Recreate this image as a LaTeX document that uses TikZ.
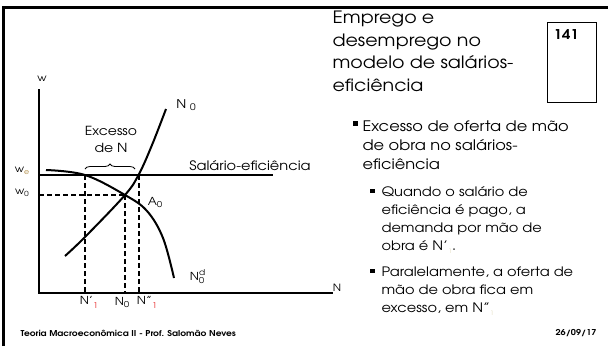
\documentclass[tikz,border=0pt]{standalone}
\usepackage{fontspec}
\setmainfont{texgyreadventor}[Extension=.otf, UprightFont=*-regular, BoldFont=*-bold, FakeStretch=1.12]
\usetikzlibrary{decorations.pathreplacing}
\definecolor{subgold}{RGB}{176,140,70}
\definecolor{subred}{RGB}{230,40,40}
\definecolor{subpale}{RGB}{225,220,190}

\begin{document}
\begin{tikzpicture}[x=1pt, y=-1pt, line width=1.1pt,
    curve/.style={line width=2pt},
    guide/.style={dashed, line width=1.3pt, dash pattern=on 5pt off 3pt},
    lbl/.style={inner sep=0pt, font=\fontsize{10}{12}\selectfont},
    bodytext/.style={inner sep=0pt, anchor=base west, align=left}]
  \useasboundingbox (0,0) rectangle (608,346);
  % frame
  \draw[line width=3pt] (3.5,346) -- (3.5,7.5) -- (608,7.5);

  % axes
  \coordinate (O) at (39,293);
  \coordinate (Ytop) at (39,89);
  \coordinate (Xend) at (333,293);
  \draw (Ytop) -- (O) -- (Xend);
  \node[lbl] (wlab) at (42,79) {w};
  \node[lbl] (Nlab) at (337,288) {N};

  % wage levels
  \coordinate (we) at (39,175);
  \coordinate (weend) at (273,175);
  \coordinate (w0) at (39,195);
  \coordinate (A) at (125,195);
  \draw (we) -- (weend);
  \draw[guide] (w0) -- (A);
  \draw[guide] (85,175) -- (85,293);
  \draw[guide] (A) -- (125,293);
  \draw[guide] (139,175) -- (139,293);

  % curves
  \draw[curve] plot[smooth, tension=0.6] coordinates
    {(65,256) (85,237) (125,195) (139,174) (152,145) (166,109)};
  \draw[curve] plot[smooth, tension=0.6] coordinates
    {(46,170) (85,175) (125,195) (147,211) (163,238) (174,278)};

  % brace
  \draw[line width=0.8pt, decorate, decoration={brace, amplitude=5pt}]
    (85,169) -- (135,169);
  \node[inner sep=0pt, align=center, font=\fontsize{12.5}{17}\selectfont]
    (exc) at (111,139) {Excesso\\de N};
  \node[inner sep=0pt, font=\fontsize{13}{15}\selectfont]
    (sal) at (250,166) {Salário-eficiência};

  % labels
  \node[lbl] (welab) at (22,171) {w\textcolor{subgold}{\raisebox{-2.5pt}{\fontsize{7}{8}\selectfont e}}};
  \node[lbl] (w0lab) at (22,193) {w\raisebox{-2.5pt}{\fontsize{7}{8}\selectfont 0}};
  \node[lbl, font=\fontsize{12}{14}\selectfont] (Ns) at (186,105) {N \raisebox{-2pt}{\fontsize{9}{10}\selectfont 0}};
  \node[lbl, font=\fontsize{11}{13}\selectfont] (A0) at (155,202) {A\raisebox{-2pt}{\fontsize{8}{9}\selectfont 0}};
  \node[lbl, font=\fontsize{11}{13}\selectfont] (Nd) at (197,277)
    {N\rlap{\raisebox{4.5pt}{\fontsize{8}{9}\selectfont d}}\raisebox{-3.5pt}{\fontsize{8}{9}\selectfont 0}};
  \node[lbl, font=\fontsize{11}{13}\selectfont] (N1a) at (89,302) {N'\raisebox{-4pt}{\fontsize{8}{9}\selectfont\textcolor{subred}{1}}};
  \node[lbl, font=\fontsize{11}{13}\selectfont] (N0a) at (122,302) {N\raisebox{-2pt}{\fontsize{8}{9}\selectfont 0}};
  \node[lbl, font=\fontsize{11}{13}\selectfont] (N1b) at (147,302) {N''\raisebox{-4pt}{\fontsize{8}{9}\selectfont\textcolor{subred}{1}}};

  % title and number box (base = last line)
  \node[bodytext, font=\fontsize{17}{22.5}\selectfont] (title) at (332,91)
    {Emprego e\\desemprego no\\modelo de salários-\\eficiência};
  \draw[line width=0.8pt] (547,22) rectangle (596,102);
  \node[inner sep=0pt, anchor=base west, font=\bfseries\fontsize{13.5}{15}\selectfont] (num) at (553,39) {141};

  % bullets
  \fill (353,126) rectangle ++(5,-5);
  \node[bodytext, font=\fontsize{14.5}{19}\selectfont] (b1) at (362,169)
    {Excesso de oferta de mão\\de obra no salários-\\eficiência};
  \fill (370,193) rectangle ++(4.5,-4.5);
  \node[bodytext, font=\fontsize{13}{18}\selectfont] (b2) at (381,250)
    {Quando o salário de\\eficiência é pago, a\\demanda por mão de\\obra é N'\raisebox{-3pt}{\fontsize{6}{7}\selectfont\textcolor{subpale}{1}}.};
  \fill (370,273) rectangle ++(4.5,-4.5);
  \node[bodytext, font=\fontsize{13}{18}\selectfont] (b3) at (381,312)
    {Paralelamente, a oferta de\\mão de obra fica em\\excesso, em N''\raisebox{-3pt}{\fontsize{6}{7}\selectfont\textcolor{subpale}{1}}};

  % footer
  \node[inner sep=0pt, anchor=west, font=\bfseries\fontsize{8.1}{9}\selectfont] (foot) at (20,333)
    {Teoria Macroeconômica II - Prof. Salomão Neves};
  \node[inner sep=0pt, anchor=east, font=\bfseries\fontsize{8.1}{9}\selectfont] (date) at (597,333)
    {26/09/17};
\end{tikzpicture}
\end{document}
